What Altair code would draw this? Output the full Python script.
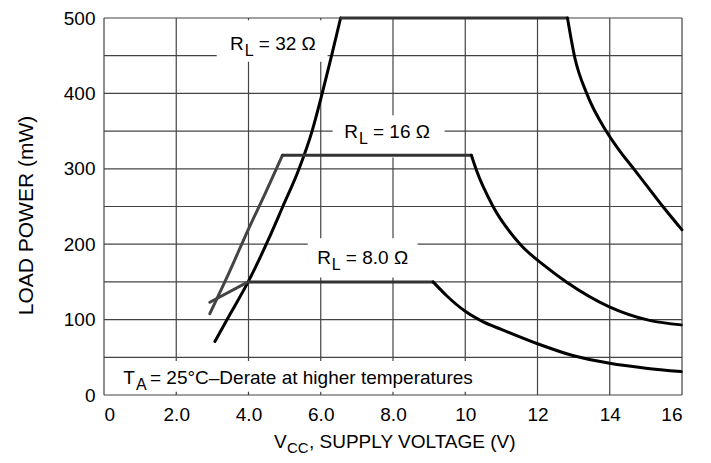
import altair as alt
import pandas as pd

FONT = "Liberation Sans, Arial, sans-serif"

# ---- curve data (V, mW) ----
r32_rise_v = [3.07, 3.50, 3.99, 4.54, 4.95, 5.40, 5.76, 6.04, 6.30, 6.55]
r32_rise_p = [71, 108, 150, 205, 250, 300, 350, 400, 450, 500]
r32_flat_v = [6.55, 12.83]
r32_flat_p = [500, 500]
r32_fall_v = [12.83, 13.03, 13.37, 13.90, 14.30, 14.68, 15.47, 16.0]
r32_fall_p = [500, 448, 399, 350, 322, 299, 250, 219]

r16_rise_v = [2.93, 3.45, 3.99, 4.47, 4.94]
r16_rise_p = [108, 161, 219, 268, 318]
r16_flat_v = [4.94, 10.17]
r16_flat_p = [318, 318]
r16_fall_v = [10.17, 10.31, 10.77, 11.50, 12.29, 12.80, 13.99, 15.10, 15.98]
r16_fall_p = [318, 298, 250, 201, 168, 150, 117, 99, 93]

r8_rise_v = [2.93, 3.99]
r8_rise_p = [123, 150]
r8_flat_v = [3.99, 9.11]
r8_flat_p = [150, 150]
r8_fall_v = [9.11, 9.50, 10.00, 10.50, 11.00, 12.00, 13.00, 14.00, 15.00, 15.98]
r8_fall_p = [150, 131, 111, 97, 87, 68, 52, 42, 35.5, 31]

segments = [
    ("32rise", "black", r32_rise_v, r32_rise_p),
    ("32flat", "flat", r32_flat_v, r32_flat_p),
    ("32fall", "black", r32_fall_v, r32_fall_p),
    ("16rise", "gray", r16_rise_v, r16_rise_p),
    ("16flat", "flat", r16_flat_v, r16_flat_p),
    ("16fall", "black", r16_fall_v, r16_fall_p),
    ("8rise", "gray", r8_rise_v, r8_rise_p),
    ("8flat", "flat", r8_flat_v, r8_flat_p),
    ("8fall", "black", r8_fall_v, r8_fall_p),
]
rows = []
for seg, style, vs, ps in segments:
    for i, (v, p) in enumerate(zip(vs, ps)):
        rows.append({"seg": seg, "style": style, "i": i, "v": v, "p": p})
curves = pd.DataFrame(rows)

# ---- grid ----
x_ticks = [0, 2, 4, 6, 8, 10, 12, 14, 16]
y_ticks = [0, 50, 100, 150, 200, 250, 300, 350, 400, 450, 500]
vgrid = pd.DataFrame({"v": x_ticks})
hgrid = pd.DataFrame({"p": y_ticks})

# ---- white label backgrounds (break the grid behind labels) ----
box_v0 = [3.12, 6.33, 5.64, 0.05]
box_v1 = [6.19, 9.43, 8.68, 10.40]
box_p0 = [442, 315, 156, 4.4]
box_p1 = [497, 371, 208, 45]
boxes = pd.DataFrame({"v0": box_v0, "v1": box_v1, "p0": box_p0, "p1": box_p1})

# ---- curve labels ----
lab_v = [3.87, 7.03, 6.28, 0.857]
lab_p = [458, 341.5, 173.2, 14.2]
lab_main = ["R", "R", "R", "T"]
lab_sub = ["L", "L", "L", "A"]
lab_rest = ["= 32 \u03a9", "= 16 \u03a9", "= 8.0 \u03a9", "= 25\u00b0C\u2013Derate at higher temperatures"]
labels = pd.DataFrame({"v": lab_v, "p": lab_p, "main": lab_main, "sub": lab_sub, "rest": lab_rest})

xs = alt.Scale(domain=[0, 16], nice=False)
ys = alt.Scale(domain=[0, 500], nice=False)

x_axis = alt.Axis(
    values=x_ticks, title=None, grid=False, ticks=False, domain=False,
    labelExpr="datum.value == 0 ? '0' : (datum.value < 10 ? format(datum.value, '.1f') : format(datum.value, 'd'))",
    labelFontSize=19, labelFont=FONT, labelColor="black", labelPadding=10,
)
y_axis = alt.Axis(
    values=[0, 100, 200, 300, 400, 500], grid=False, ticks=False, domain=False,
    labelFontSize=19, labelFont=FONT, labelColor="black", labelPadding=9,
    title="LOAD POWER (mW)", titleFont=FONT, titleFontSize=21, titleFontWeight="normal",
    titleColor="black", titleX=-72, titleY=197, titleAngle=270, titleAlign="center",
    titleBaseline="alphabetic",
)

GRID = "#444444"

vlines = alt.Chart(vgrid).mark_rule(color=GRID, strokeWidth=1.2).encode(
    x=alt.X("v:Q", scale=xs, axis=x_axis),
    y=alt.value(0), y2=alt.value(377),
)
hlines = alt.Chart(hgrid).mark_rule(color=GRID, strokeWidth=1.2).encode(
    y=alt.Y("p:Q", scale=ys, axis=y_axis),
    x=alt.value(0), x2=alt.value(578),
)

rects = alt.Chart(boxes).mark_rect(color="white").encode(
    x=alt.X("v0:Q", scale=xs),
    x2="v1:Q",
    y=alt.Y("p0:Q", scale=ys),
    y2="p1:Q",
)

lines = alt.Chart(curves).mark_line(interpolate="monotone", strokeCap="round", strokeJoin="round").encode(
    x=alt.X("v:Q", scale=xs),
    y=alt.Y("p:Q", scale=ys),
    detail="seg:N",
    order="i:Q",
    color=alt.Color("style:N", scale=alt.Scale(domain=["black", "gray", "flat"],
                                               range=["#000000", "#444444", "#333333"]), legend=None),
    strokeWidth=alt.StrokeWidth("style:N", scale=alt.Scale(domain=["black", "gray", "flat"],
                                                           range=[3, 3, 4]), legend=None),
)

lab = alt.Chart(labels)
t_main = lab.mark_text(align="right", baseline="alphabetic", font=FONT, fontSize=19, color="black").encode(
    x=alt.X("v:Q", scale=xs), y=alt.Y("p:Q", scale=ys), text="main:N")
t_sub = lab.mark_text(align="left", baseline="alphabetic", font=FONT, fontSize=16, color="black", dx=1, dy=6).encode(
    x=alt.X("v:Q", scale=xs), y=alt.Y("p:Q", scale=ys), text="sub:N")
t_rest = lab.mark_text(align="left", baseline="alphabetic", font=FONT, fontSize=19, color="black", dx=15).encode(
    x=alt.X("v:Q", scale=xs), y=alt.Y("p:Q", scale=ys), text="rest:N")

# x axis title with subscript
xt = pd.DataFrame({"a": ["V"], "b": ["CC"], "c": [", SUPPLY VOLTAGE (V)"]})
xt_a = alt.Chart(xt).mark_text(align="left", baseline="alphabetic", font=FONT, fontSize=19, color="black").encode(
    x=alt.value(170), y=alt.value(430), text="a:N")
xt_b = alt.Chart(xt).mark_text(align="left", baseline="alphabetic", font=FONT, fontSize=15, color="black").encode(
    x=alt.value(183), y=alt.value(435), text="b:N")
xt_c = alt.Chart(xt).mark_text(align="left", baseline="alphabetic", font=FONT, fontSize=19, color="black").encode(
    x=alt.value(205), y=alt.value(430), text="c:N")

chart = alt.layer(vlines, hlines, rects, lines, t_main, t_sub, t_rest, xt_a, xt_b, xt_c).properties(
    width=578, height=377,
    autosize=alt.AutoSizeParams(type="none"),
    padding={"left": 96, "top": 10, "right": 21, "bottom": 60},
    background="white",
).configure_view(
    stroke=None
)

chart.save("out.html", embed_options={"renderer": "svg", "actions": False})
